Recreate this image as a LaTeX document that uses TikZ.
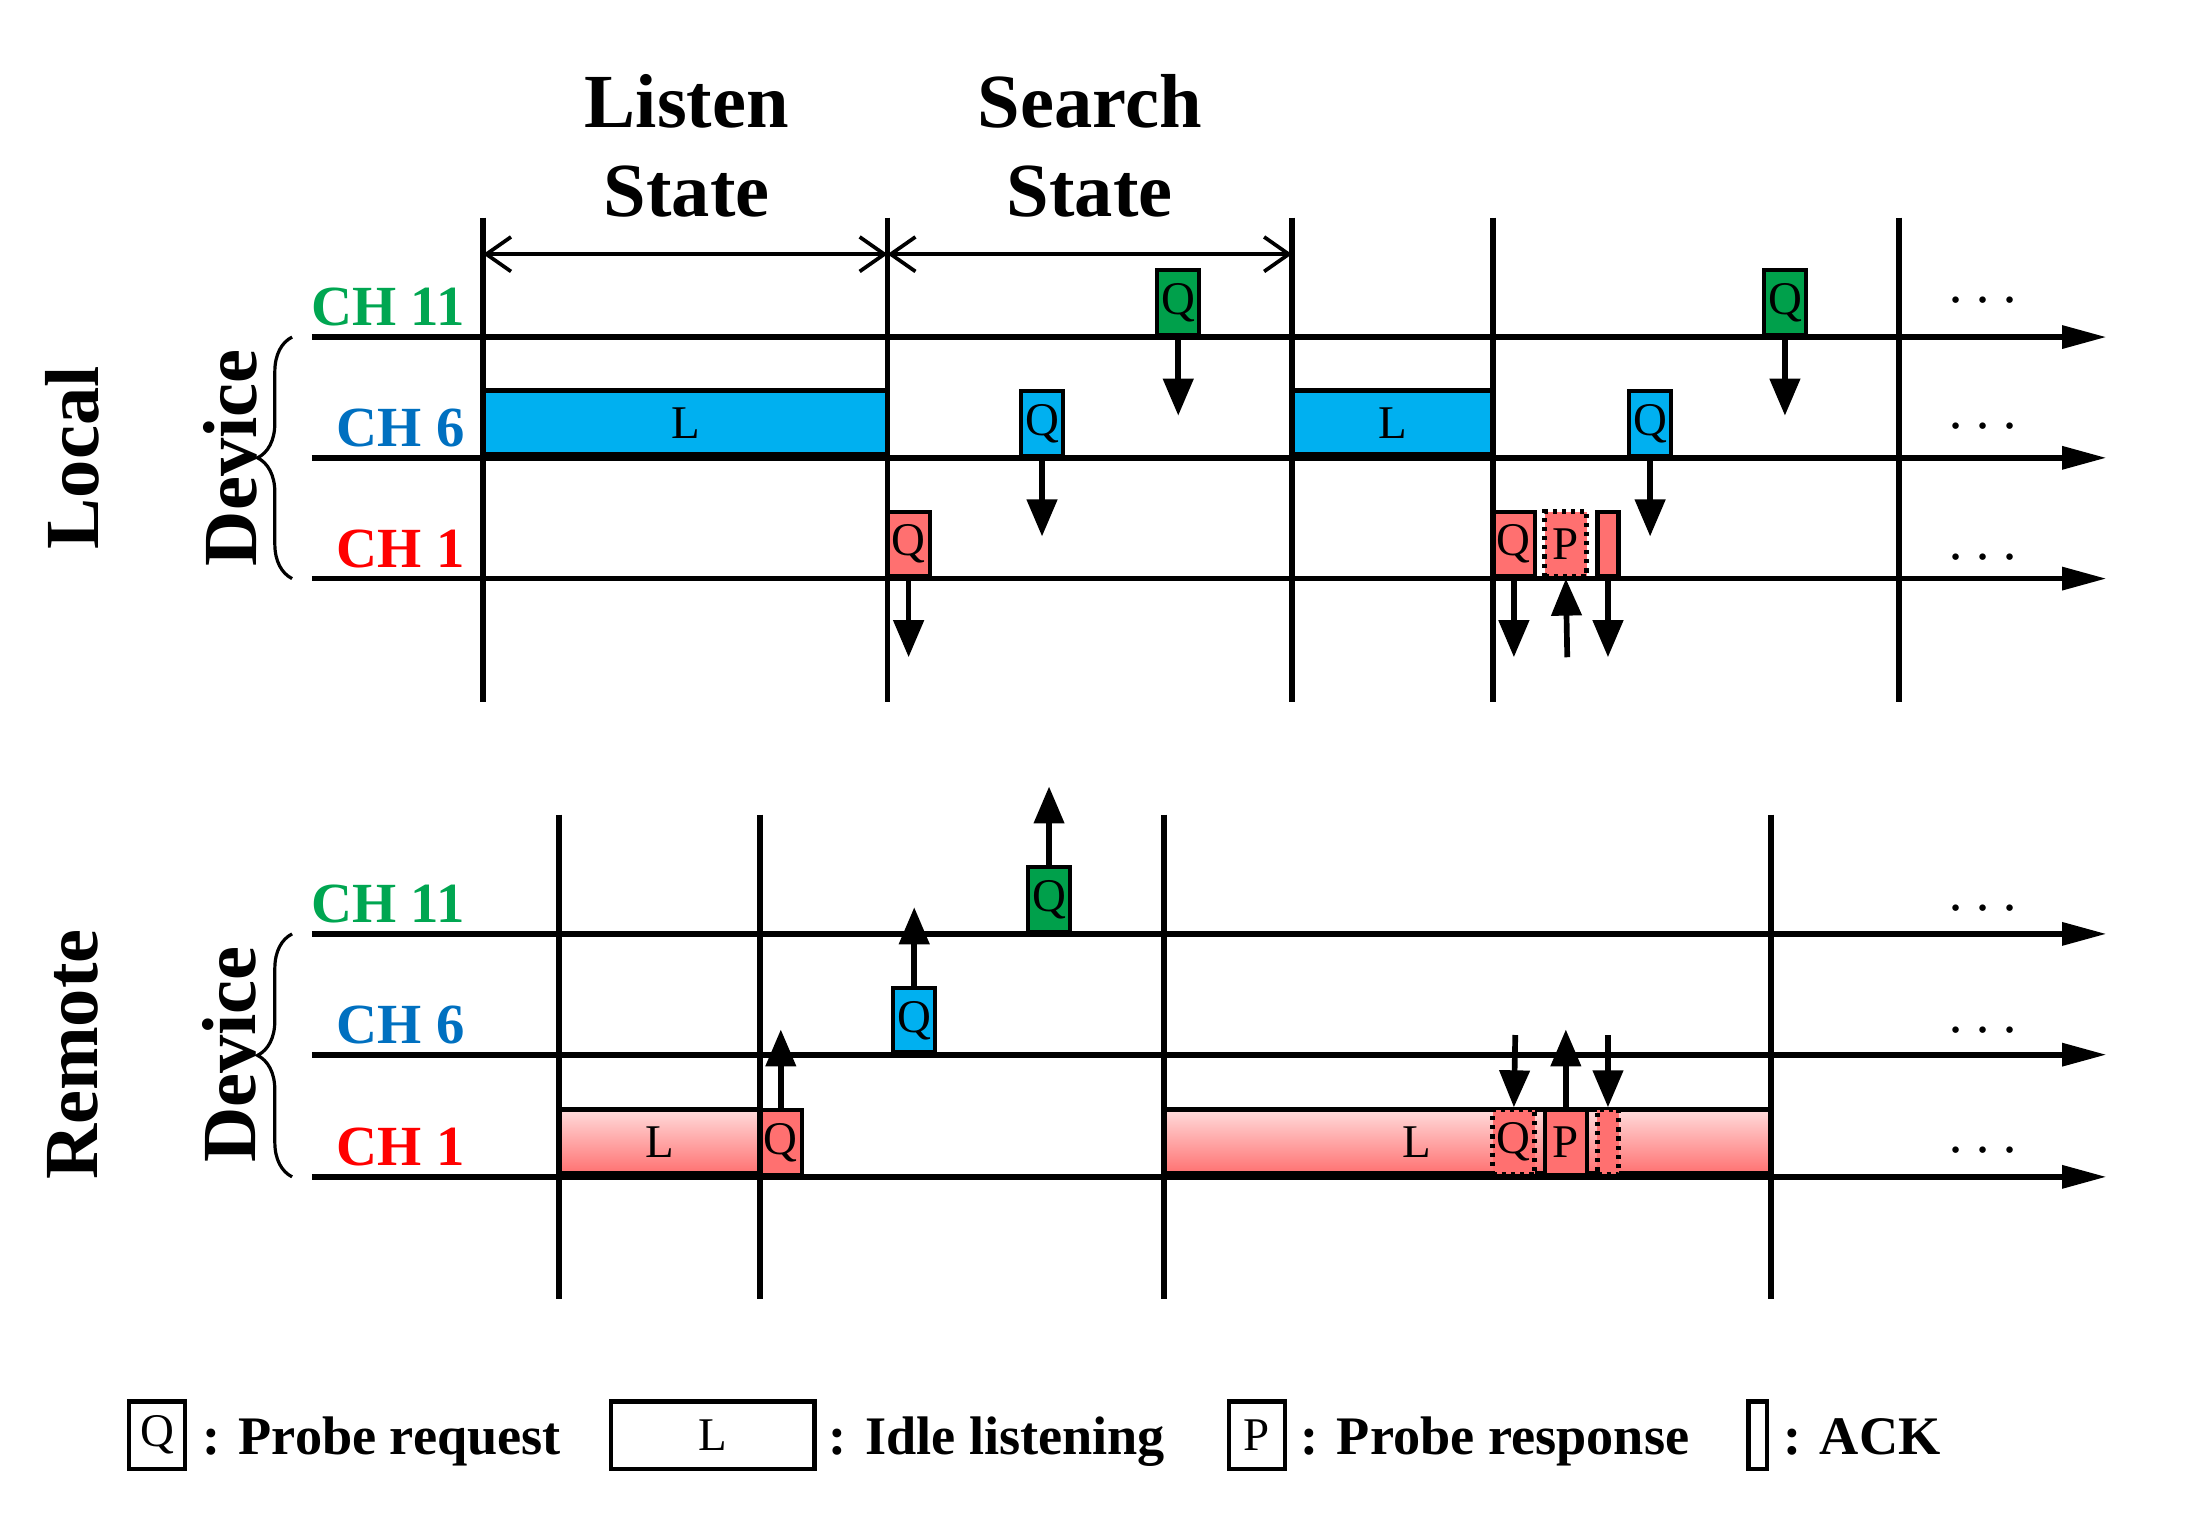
\documentclass[tikz,border=0pt]{standalone}
\usepackage{fontspec}
\setmainfont{Liberation Serif}
\usetikzlibrary{arrows.meta,decorations.pathreplacing}
\definecolor{cgreen}{RGB}{0,166,81}
\definecolor{cblue}{RGB}{0,112,192}
\definecolor{ccyan}{RGB}{0,176,240}
\definecolor{cred}{RGB}{255,0,0}
\definecolor{cpink}{RGB}{255,112,112}
\definecolor{qgreen}{RGB}{0,160,75}
\begin{document}
\begin{tikzpicture}[x=0.02cm,y=-0.02cm,
  ch/.style={line width=2.3pt,-{Triangle[length=18pt,width=9pt]}},
  vl/.style={line width=2.3pt},
  box/.style={draw,line width=1.7pt,inner sep=0pt,anchor=south,minimum height=0.92cm,font=\fontsize{19}{19}\selectfont},
  q/.style={box,minimum width=0.6cm},
  ack/.style={box,minimum width=0.3cm},
  dotb/.style={box,dotted,line width=2pt},
  arr/.style={line width=2.3pt,-{Triangle[length=15pt,width=12pt]}},
  lab/.style={font=\bfseries\fontsize{23}{23}\selectfont,anchor=base east},
  ttl/.style={font=\bfseries\fontsize{31}{36}\selectfont,align=center},
  dots/.style={font=\bfseries\fontsize{24}{24}\selectfont},
  lg/.style={font=\bfseries\fontsize{22}{22}\selectfont,anchor=base west},
  dim/.style={line width=1.5pt,{Straight Barb[length=10pt,width=14pt]}-{Straight Barb[length=10pt,width=14pt]}}]
\useasboundingbox (0,0) rectangle (1563,1079);
% titles
\node[ttl] (t1) at (489,104) {Listen\\State};
\node[ttl] (t2) at (776,104) {Search\\State};
% channel lines
\foreach \y/\n in {240/a,326/b,412/c,665/d,751/e,838/f}{\coordinate (s\n) at (222,\y); \coordinate (e\n) at (1500,\y); \draw[ch] (s\n) -- (e\n);}
% labels
\foreach \y/\c/\t in {232/cgreen/CH 11,318/cblue/CH 6,404/cred/CH 1,657/cgreen/CH 11,743/cblue/CH 6,830/cred/CH 1}
  \node[lab,text=\c] at (337,\y) {\t};
\foreach \y in {215,305,398,648,735,820} \node[dots] at (1412,\y) {$\cdots$};
\node[font=\bfseries\fontsize{31}{64}\selectfont,rotate=90,align=center] (ld) at (108,326) {Local\\Device};
\node[font=\bfseries\fontsize{31}{64}\selectfont,rotate=90,align=center] (rd) at (108,751) {Remote\\Device};
\draw[line width=1.3pt,decorate,decoration={brace,amplitude=14pt}] (208,412) -- (208,240);
\draw[line width=1.3pt,decorate,decoration={brace,amplitude=14pt}] (208,838) -- (208,665);
% local L boxes
\node[box,fill=ccyan,minimum width=5.76cm,line width=2.3pt] (L1) at (488,326) {L};
\node[box,fill=ccyan,minimum width=2.86cm,line width=2.3pt] (L2) at (991.5,326) {L};
% local Q boxes
\node[q,fill=qgreen] (g1) at (839,240) {Q};
\node[q,fill=qgreen] (g2) at (1271,240) {Q};
\node[q,fill=ccyan] (b1) at (742,326) {Q};
\node[q,fill=ccyan] (b2) at (1175,326) {Q};
\node[q,fill=cpink] (r1) at (647,412) {Q};
\node[q,fill=cpink] (r2) at (1078,412) {Q};
\node[q,fill=cpink,dotted,line width=2pt] (p2) at (1115,412) {P};
\node[ack,fill=cpink] (k2) at (1145,412) {};
\draw[arr] (g1.south) -- ++(0,56);
\draw[arr] (g2.south) -- ++(0,56);
\draw[arr] (b1.south) -- ++(0,56);
\draw[arr] (b2.south) -- ++(0,56);
\draw[arr] (r1.south) -- ++(0,56);
\draw[arr] (r2.south) -- ++(0,56);
\draw[arr] (1116,468) coordinate (pu) -- (p2.south);
\draw[arr] (k2.south) -- ++(0,56);
% remote
\node[box,shade,top color=cpink!25,bottom color=cpink,minimum width=2.86cm,line width=2.3pt] (RL1) at (469.5,838) {L};
\node[box,shade,top color=cpink!25,bottom color=cpink,minimum width=8.64cm,line width=2.3pt,text width=8.64cm,align=left] (RL2) at (1045,838) {\hspace{3.4cm}L};
\node[q,fill=cpink] (rq1) at (556,838) {Q};
\node[q,fill=ccyan] (rb1) at (651,751) {Q};
\node[q,fill=qgreen] (rg1) at (747,665) {Q};
\draw[arr] (rq1.north) -- ++(0,-56);
\draw[arr] (rb1.north) -- ++(0,-56);
\draw[arr] (rg1.north) -- ++(0,-56);
\node[q,fill=cpink,dotted,line width=2pt] (rq2) at (1078,838) {Q};
\node[q,fill=cpink] (rp2) at (1115,838) {P};
\node[ack,fill=cpink,dotted,line width=2pt] (rk2) at (1145,838) {};
\draw[arr] (1079,737) coordinate (a1) -- (rq2.north);
\draw[arr] (rp2.north) -- ++(0,-56);
\draw[arr] (1145,737) coordinate (a3) -- (rk2.north);
% verticals
\foreach \x in {344,632,920,1063,1352} \draw[vl] (\x,155) -- (\x,500);
\foreach \x in {398,541,829,1261} \draw[vl] (\x,580) -- (\x,925);
\coordinate (d1) at (344,181); \coordinate (d2) at (632,181); \coordinate (d3) at (920,181);
\draw[dim] (d1) -- (d2);
\draw[dim] (d2) -- (d3);
% legend
\node[box,minimum width=0.8cm,minimum height=0.96cm,anchor=center] (lq) at (112,1022) {Q};
\node[lg] at (138,1036) {: Probe request};
\node[box,minimum width=2.9cm,minimum height=0.96cm,anchor=center] (ll) at (507.5,1022) {L};
\node[lg] at (584,1036) {: Idle listening};
\node[box,minimum width=0.8cm,minimum height=0.96cm,anchor=center] (lp) at (895,1022) {P};
\node[lg] at (920,1036) {: Probe response};
\node[box,minimum width=0.26cm,minimum height=0.96cm,anchor=center] (lk) at (1251.5,1022) {};
\node[lg] at (1264,1036) {: ACK};
\end{tikzpicture}
\end{document}
